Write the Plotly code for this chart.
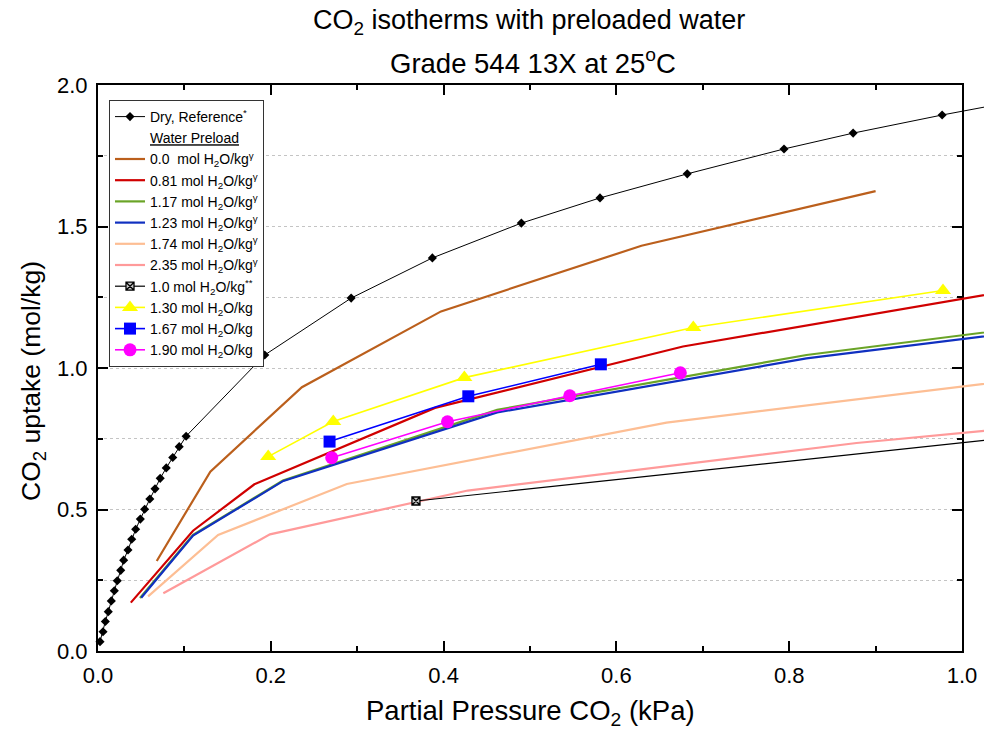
import plotly.graph_objects as go

# ---------------- data ----------------
dry_x = [0.0023, 0.0058, 0.0085, 0.0119, 0.0154, 0.0189, 0.0223, 0.0263, 0.0297, 0.0347,
         0.039, 0.0436, 0.049, 0.054, 0.060, 0.066, 0.072, 0.079, 0.0865, 0.094, 0.102,
         0.193, 0.293, 0.387, 0.490, 0.581, 0.682, 0.794, 0.874, 0.977, 1.075]
dry_y = [0.033, 0.068, 0.104, 0.139, 0.177, 0.213, 0.248, 0.285, 0.321, 0.357,
         0.395, 0.430, 0.466, 0.501, 0.537, 0.573, 0.610, 0.647, 0.684, 0.722, 0.759,
         1.046, 1.247, 1.389, 1.512, 1.601, 1.686, 1.774, 1.830, 1.894, 1.950]

w000_x = [0.068, 0.130, 0.236, 0.397, 0.629, 0.900]
w000_y = [0.318, 0.634, 0.932, 1.200, 1.432, 1.625]

w081_x = [0.038, 0.110, 0.181, 0.390, 0.677, 1.050]
w081_y = [0.171, 0.425, 0.589, 0.859, 1.076, 1.270]

w117_x = [0.0486, 0.110, 0.214, 0.462, 0.820, 1.050]
w117_y = [0.187, 0.410, 0.602, 0.852, 1.046, 1.135]

w123_x = [0.050, 0.110, 0.2145, 0.462, 0.820, 1.050]
w123_y = [0.188, 0.408, 0.601, 0.843, 1.034, 1.121]

w174_x = [0.058, 0.139, 0.288, 0.658, 1.050]
w174_y = [0.193, 0.410, 0.590, 0.807, 0.953]

w235_x = [0.0756, 0.199, 0.428, 0.878, 1.050]
w235_y = [0.204, 0.412, 0.567, 0.735, 0.785]

w100_x = [0.368, 1.050]
w100_y = [0.530, 0.752]

w130_x = [0.197, 0.2723, 0.424, 0.689, 0.978]
w130_y = [0.687, 0.811, 0.966, 1.143, 1.274]

w167_x = [0.268, 0.4286, 0.582]
w167_y = [0.740, 0.900, 1.013]

w190_x = [0.2705, 0.4045, 0.546, 0.674]
w190_y = [0.683, 0.810, 0.902, 0.983]

x_ticks = [0.0, 0.2, 0.4, 0.6, 0.8, 1.0]
y_ticks = [0.0, 0.5, 1.0, 1.5, 2.0]

FONT = "Liberation Sans, Arial, sans-serif"
H2O = "mol H<sub>2</sub>O/kg"

fig = go.Figure()

# invisible trace so that the framed subplot (axes, ticks, grid) is drawn
fig.add_trace(go.Scatter(x=[None], y=[None], mode="lines", showlegend=False,
                         hoverinfo="skip", xaxis="x", yaxis="y"))

def add(x, y, name, color, width, mode="lines", marker=None, group=None):
    fig.add_trace(go.Scatter(
        x=x, y=y, name=name, mode=mode,
        line=dict(color=color, width=width),
        marker=marker or {},
        xaxis="x2", yaxis="y2",
        legendgroup=group or name,
        cliponaxis=False if mode != "lines" else True,
    ))

add(dry_x, dry_y, "Dry, Reference<sup>*</sup>", "black", 1, "lines+markers",
    dict(symbol="diamond", size=7, color="black"), "g0")
fig.add_trace(go.Scatter(x=[None], y=[None], name="<u>Water Preload</u>", mode="lines",
                         line=dict(color="rgba(0,0,0,0)", width=0),
                         xaxis="x2", yaxis="y2", legendgroup="g1"))
add(w000_x, w000_y, "0.0&nbsp; " + H2O + "<sup>γ</sup>", "#bb5f1c", 2.2, group="g2")
add(w081_x, w081_y, "0.81 " + H2O + "<sup>γ</sup>", "#d00000", 2.2, group="g3")
add(w117_x, w117_y, "1.17 " + H2O + "<sup>γ</sup>", "#6aa427", 2.2, group="g4")
add(w123_x, w123_y, "1.23 " + H2O + "<sup>γ</sup>", "#1030c0", 2.2, group="g5")
add(w174_x, w174_y, "1.74 " + H2O + "<sup>γ</sup>", "#fdbe94", 2.2, group="g6")
add(w235_x, w235_y, "2.35 " + H2O + "<sup>γ</sup>", "#ff9a9a", 2.2, group="g7")
add(w100_x, w100_y, "1.0 " + H2O + "<sup>**</sup>", "black", 1.2, "lines+markers",
    dict(symbol="square-x", size=8, color="#c8c8c8", line=dict(color="black", width=1.3)), "g8")
add(w130_x, w130_y, "1.30 " + H2O, "#ffff00", 1.6, "lines+markers",
    dict(symbol="triangle-up", size=14, color="#ffff00"), "g9")
add(w167_x, w167_y, "1.67 " + H2O, "#0000ff", 1.6, "lines+markers",
    dict(symbol="square", size=12, color="#0000ff"), "g10")
add(w190_x, w190_y, "1.90 " + H2O, "#ff00ff", 1.6, "lines+markers",
    dict(symbol="circle", size=13, color="#ff00ff"), "g11")

W, Hh = 984, 730
ML, MR, MT, MB = 98, 0, 85, 79
PW = W - ML - MR          # 886
PH = Hh - MT - MB         # 566
FRAME_W = 864             # width of x 0..1

axis_common = dict(
    showline=True, linewidth=2, linecolor="black", mirror="ticks",
    ticks="inside", ticklen=10, tickwidth=2, tickcolor="black",
    tickfont=dict(family=FONT, size=22, color="black"),
    zeroline=False, automargin=False,
)

fig.update_layout(
    width=W, height=Hh,
    margin=dict(l=ML, r=MR, t=MT, b=MB),
    paper_bgcolor="white", plot_bgcolor="rgba(0,0,0,0)",
    font=dict(family=FONT, color="black"),
    xaxis=dict(domain=[0, FRAME_W / PW], range=[0, 1], anchor="y",
               tickvals=x_ticks, ticktext=[f"{v:.1f}" for v in x_ticks],
               minor=dict(ticks="inside", ticklen=5, tickwidth=2, tickcolor="black",
                          dtick=0.1, tick0=0, showgrid=False),
               showgrid=False, ticklabelstandoff=4, **axis_common),
    yaxis=dict(domain=[0, 1], range=[0, 2], anchor="x",
               tickvals=y_ticks, ticktext=[f"{v:.1f}" for v in y_ticks],
               showgrid=True, gridcolor="#c4c4c4", griddash="dot", gridwidth=1,
               minor=dict(ticks="inside", ticklen=5, tickwidth=2, tickcolor="black",
                          dtick=0.25, tick0=0, showgrid=True, gridcolor="#c4c4c4",
                          griddash="dot", gridwidth=1),
               ticklabelstandoff=4, **axis_common),
    xaxis2=dict(domain=[0, 1], range=[0, PW / FRAME_W], anchor="y2", visible=False,
                automargin=False),
    yaxis2=dict(domain=[0, 1], range=[0, 2], anchor="x2", visible=False,
                automargin=False),
    showlegend=True,
    legend=dict(x=(109 - ML) / PW, y=(651 - 100) / PH, xanchor="left", yanchor="top",
                bgcolor="white", bordercolor="#333333", borderwidth=1,
                font=dict(family=FONT, size=14, color="black"),
                tracegroupgap=0, itemwidth=30),
)

def ann(text, xpx, ypx, size, angle=0):
    fig.add_annotation(text=text, xref="paper", yref="paper",
                       x=(xpx - ML) / PW, y=(651 - ypx) / PH,
                       xanchor="center", yanchor="middle", showarrow=False,
                       textangle=angle, font=dict(family=FONT, size=size, color="black"))

ann("CO<sub>2</sub> isotherms with preloaded water", 529, 22, 27)
ann("Grade 544 13X at 25<sup>o</sup>C", 533, 62, 27.5)
ann("Partial Pressure CO<sub>2</sub> (kPa)", 530, 713, 27.5)
ann("CO<sub>2</sub> uptake (mol/kg)", 33, 381, 26.5, -90)

fig.write_html("out.html")
